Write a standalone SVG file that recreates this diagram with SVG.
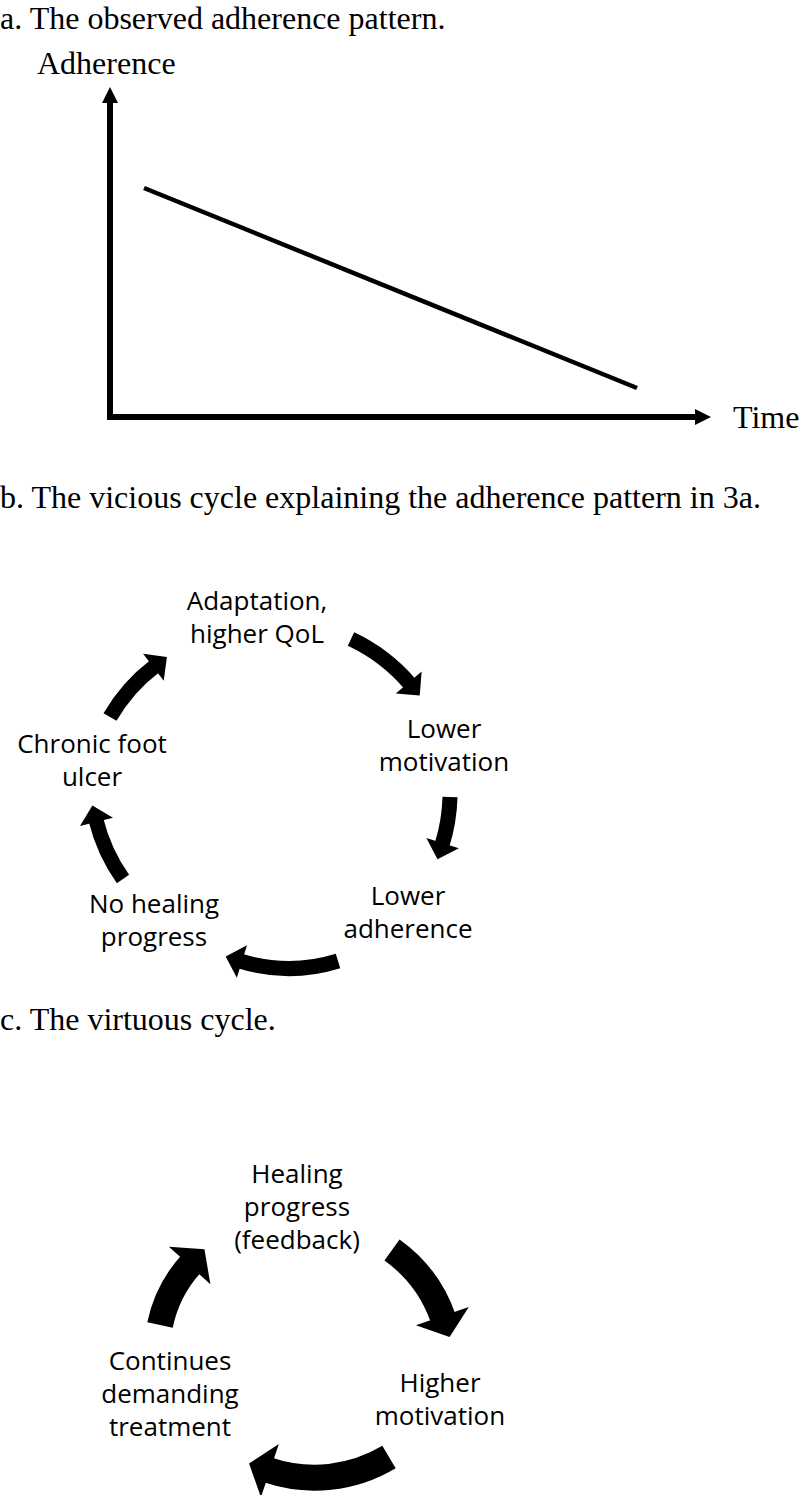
<svg xmlns="http://www.w3.org/2000/svg" width="800" height="1495" viewBox="0 0 800 1495">
<style>
.title{font-family:"Liberation Serif","Times New Roman",serif;font-size:32px;fill:#000}
.lbl{font-family:"Open Sans","Noto Sans",sans-serif;font-size:26px;fill:#000;text-anchor:middle}
.axis{stroke:#000;stroke-width:6;fill:none}
.trend{stroke:#000;stroke-width:4.5;fill:none}
.cb{stroke:#000;stroke-width:15;fill:none;marker-end:url(#hb)}
.cc{stroke:#000;stroke-width:26;fill:none;marker-end:url(#hc)}
</style>
<defs>
<marker id="hb" markerUnits="userSpaceOnUse" viewBox="-3 -20 24 40" markerWidth="24" markerHeight="40" refX="0" refY="0" orient="auto">
<path d="M-2,-17 L15,0 L-2,17 z" fill="#000"/>
</marker>
<marker id="hc" markerUnits="userSpaceOnUse" viewBox="-3 -32 28 64" markerWidth="28" markerHeight="64" refX="0" refY="0" orient="auto">
<path d="M-2,-28 L20,0 L-2,28 z" fill="#000"/>
</marker>
</defs>
<rect width="800" height="1495" fill="#fff"/>

<g id="panel-a">
<text class="title" x="0" y="29">a. The observed adherence pattern.</text>
<text class="title" x="37" y="74">Adherence</text>
<text class="title" x="733" y="428">Time</text>
<line class="axis" x1="110" y1="420" x2="110" y2="100"/>
<polygon points="110,87 102,103 118,103" fill="#000"/>
<line class="axis" x1="107" y1="417" x2="697" y2="417"/>
<polygon points="711,417 695,409 695,425" fill="#000"/>
<line class="trend" x1="144" y1="188" x2="637" y2="388"/>
</g>

<text id="title-b" class="title" x="0" y="508">b. The vicious cycle explaining the adherence pattern in 3a.</text>

<g id="cycle-b-nodes">
<g id="b-adaptation"><text class="lbl" x="257" y="610">Adaptation,</text><text class="lbl" x="257" y="643">higher QoL</text></g>
<g id="b-lower-motivation"><text class="lbl" x="444" y="738">Lower</text><text class="lbl" x="444" y="771">motivation</text></g>
<g id="b-lower-adherence"><text class="lbl" x="408" y="905">Lower</text><text class="lbl" x="408" y="938">adherence</text></g>
<g id="b-no-healing"><text class="lbl" x="154" y="913">No healing</text><text class="lbl" x="154" y="946">progress</text></g>
<g id="b-chronic"><text class="lbl" x="92" y="753">Chronic foot</text><text class="lbl" x="92" y="786">ulcer</text></g>
</g>

<g id="cycle-b-connectors">
<path class="cb" d="M351,639 A175,175 0 0 1 410,684"/>
<path class="cb" d="M450,797 A175,175 0 0 1 442,845"/>
<path class="cb" d="M338,961 A165,165 0 0 1 240,961"/>
<path class="cb" d="M123,879 A175,175 0 0 1 96,820"/>
<path class="cb" d="M110,717 A175,175 0 0 1 155,666"/>
</g>

<text id="title-c" class="title" x="0" y="1030">c. The virtuous cycle.</text>

<g id="cycle-c-nodes">
<g id="c-healing"><text class="lbl" x="297" y="1183">Healing</text><text class="lbl" x="297" y="1216">progress</text><text class="lbl" x="297" y="1249">(feedback)</text></g>
<g id="c-higher-motivation"><text class="lbl" x="440" y="1392">Higher</text><text class="lbl" x="440" y="1425">motivation</text></g>
<g id="c-continues"><text class="lbl" x="170" y="1370">Continues</text><text class="lbl" x="170" y="1403">demanding</text><text class="lbl" x="170" y="1436">treatment</text></g>
</g>

<g id="cycle-c-connectors">
<path class="cc" d="M392,1250 A140,140 0 0 1 443,1318"/>
<path class="cc" d="M389,1457 A145,145 0 0 1 268,1470"/>
<path class="cc" d="M160,1325 A130,130 0 0 1 191,1264"/>
</g>
</svg>
